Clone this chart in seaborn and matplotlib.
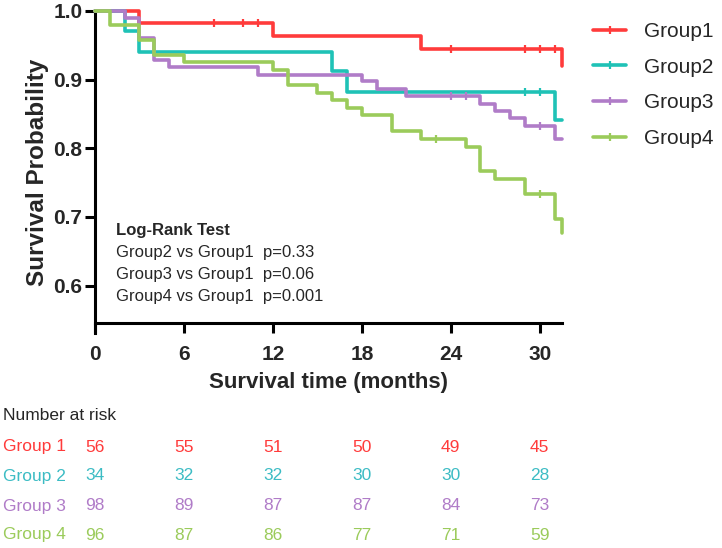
import matplotlib
matplotlib.use("Agg")
import matplotlib.pyplot as plt
import matplotlib.transforms as mtransforms
from matplotlib.lines import Line2D
import numpy as np
import pandas as pd
import seaborn as sns

GROUPS = ["Group1", "Group2", "Group3", "Group4"]
COLORS = ["#FF3B3B", "#1FC2B6", "#B07CC8", "#9BCB5B"]
RISK_COLORS = ["#FF3B3B", "#3CBCC4", "#B07CC8", "#9BCB5B"]

# Kaplan-Meier steps (months, survival)
g1_time = [0, 3, 12, 22, 31.5]
g1_surv = [1.0, 0.982, 0.964, 0.945, 0.920]
g1_cens = [8, 10, 11, 24, 29, 30, 31]

g2_time = [0, 2, 3, 16, 17, 31, 31.5]
g2_surv = [1.0, 0.971, 0.941, 0.912, 0.882, 0.841, 0.841]
g2_cens = [29, 30]

g3_time = [0, 2, 3, 4, 5, 11, 18, 19, 21, 26, 27, 28, 29, 31, 31.5]
g3_surv = [1.0, 0.990, 0.960, 0.929, 0.918, 0.907, 0.898, 0.887, 0.876,
           0.865, 0.854, 0.844, 0.833, 0.814, 0.814]
g3_cens = [24, 25, 30]

g4_time = [0, 1, 3, 4, 6, 12, 13, 15, 16, 17, 18, 20, 22, 25, 26, 27, 29, 31, 31.5]
g4_surv = [1.0, 0.979, 0.958, 0.936, 0.926, 0.914, 0.892, 0.881, 0.870, 0.859,
           0.848, 0.825, 0.813, 0.802, 0.767, 0.756, 0.734, 0.697, 0.677]
g4_cens = [23, 30]

x_ticks = [0, 6, 12, 18, 24, 30]
y_ticks = [0.6, 0.7, 0.8, 0.9, 1.0]

risk_labels = ["Group 1", "Group 2", "Group 3", "Group 4"]
risk_g1 = [56, 55, 51, 50, 49, 45]
risk_g2 = [34, 32, 32, 30, 30, 28]
risk_g3 = [98, 89, 87, 87, 84, 73]
risk_g4 = [96, 87, 86, 77, 71, 59]

logrank_lines = ["Group2 vs Group1  p=0.33",
                 "Group3 vs Group1  p=0.06",
                 "Group4 vs Group1  p=0.001"]

sns.set_style("ticks")
plt.rcParams["font.family"] = ["Liberation Sans", "DejaVu Sans"]

times = [g1_time, g2_time, g3_time, g4_time]
survs = [g1_surv, g2_surv, g3_surv, g4_surv]
cens = [g1_cens, g2_cens, g3_cens, g4_cens]
risks = [risk_g1, risk_g2, risk_g3, risk_g4]

df = pd.concat(
    [pd.DataFrame({"time": t, "surv": s, "group": g}) for t, s, g in zip(times, survs, GROUPS)],
    ignore_index=True,
)

fig = plt.figure(figsize=(7.22, 5.48), dpi=100)
ax = fig.add_axes([95 / 722, 1 - 333 / 548, (562 - 95) / 722, (333 - 11) / 548])

sns.lineplot(
    data=df, x="time", y="surv", hue="group", palette=COLORS, estimator=None,
    sort=False, drawstyle="steps-post", linewidth=2.6, legend=False, ax=ax,
    clip_on=False, zorder=3,
)

# censor marks sit on the curve at the censoring time
for t, s, c, col in zip(times, survs, cens, COLORS):
    idx = np.searchsorted(t, c, side="right") - 1
    ax.plot(c, np.array(s)[idx], linestyle="none", marker="|", markersize=6,
            markeredgewidth=1.6, color=col, zorder=4, clip_on=False)

ax.set_xlim(0, 31.5)
ax.set_ylim(0.531, 1.0)
ax.set_xticks(x_ticks)
ax.set_yticks(y_ticks)
ax.set_yticklabels([f"{v:.1f}" for v in y_ticks])
ax.spines["bottom"].set_position(("data", 0.546))
for side in ["top", "right"]:
    ax.spines[side].set_visible(False)
for side in ["left", "bottom"]:
    ax.spines[side].set_linewidth(2.2)
    ax.spines[side].set_color("black")
ax.tick_params(axis="both", direction="out", length=7, width=2.2, color="black",
               labelsize=15)
ax.tick_params(axis="x", pad=9)
ax.tick_params(axis="y", pad=2)
for lbl in ax.get_xticklabels() + ax.get_yticklabels():
    lbl.set_fontweight("bold")
ax.set_xlabel("Survival time (months)", fontsize=16, fontweight="bold", labelpad=6)
ax.set_ylabel("Survival Probability", fontsize=17.5, fontweight="bold", labelpad=3)

ax.text(1.4, 0.680, "Log-Rank Test", fontsize=12, fontweight="bold", va="center", ha="left")
for i, line in enumerate(logrank_lines):
    ax.text(1.4, 0.648 - 0.032 * i, line, fontsize=12, va="center", ha="left")

handles = [Line2D([0], [0], color=c, linewidth=2.6, marker="|", markersize=6,
                  markeredgewidth=1.6) for c in COLORS]
fig.legend(handles, GROUPS, loc="upper left", bbox_to_anchor=(593 / 722, 1 - 22 / 548),
           frameon=False, fontsize=15, borderpad=0, borderaxespad=0,
           handlelength=1.6, handletextpad=0.85, labelspacing=0.8)

# number-at-risk table under the axis, aligned with the x ticks
trans = mtransforms.blended_transform_factory(ax.transData, fig.transFigure)
fig.text(3 / 722, 1 - 415 / 548, "Number at risk", fontsize=12.5, va="center", ha="left")
row_y = [447, 476, 506, 535]
for lab, vals, col, py in zip(risk_labels, risks, RISK_COLORS, row_y):
    fig.text(3 / 722, 1 - py / 548, lab, fontsize=12.5, color=col, va="center", ha="left")
    for xt, v in zip(x_ticks, vals):
        ax.text(xt, 1 - py / 548, str(v), transform=trans, fontsize=12.5, color=col,
                va="center", ha="center", clip_on=False)

fig.savefig("out.png", dpi=100)
